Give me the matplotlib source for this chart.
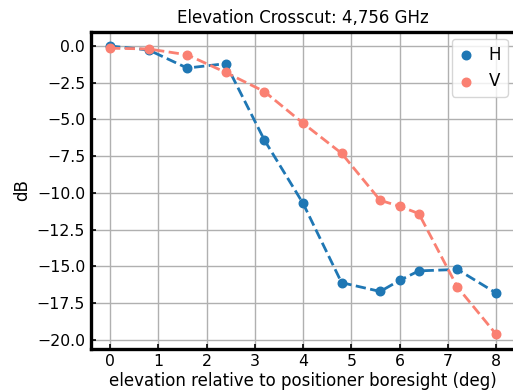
import matplotlib
matplotlib.use("Agg")
import matplotlib.pyplot as plt
from matplotlib.ticker import MultipleLocator

# elevation positions (deg)
elevation = [0, 0.8, 1.6, 2.4, 3.2, 4.0, 4.8, 5.6, 6.0, 6.4, 7.2, 8.0]
# measured crosscut levels (dB)
h_db = [0.0, -0.27, -1.5, -1.2, -6.4, -10.7, -16.1, -16.7, -15.95, -15.3, -15.2, -16.8]
v_db = [-0.15, -0.2, -0.6, -1.8, -3.1, -5.25, -7.3, -10.5, -10.9, -11.4, -16.4, -19.6]

H_COLOR = "#1f77b4"
V_COLOR = "salmon"

fig = plt.figure(figsize=(5.13, 3.9), dpi=100)
ax = fig.add_axes([90.7 / 513, 41.5 / 390, (515.3 - 90.7) / 513, (348.5 - 31.6) / 390])

ax.scatter(elevation, h_db, color=H_COLOR, s=38, label="H", zorder=3)
ax.plot(elevation, h_db, "--", color=H_COLOR, lw=2, zorder=3)
ax.scatter(elevation, v_db, color=V_COLOR, s=38, label="V", zorder=3)
ax.plot(elevation, v_db, "--", color=V_COLOR, lw=2, zorder=3)

ax.set_xlim(-0.4, 8.4)
ax.set_ylim(-20.58, 0.98)
ax.xaxis.set_major_locator(MultipleLocator(1))
ax.yaxis.set_major_locator(MultipleLocator(2.5))
ax.grid(True, color="#b0b0b0", lw=1)
ax.set_axisbelow(True)

for side in ["left", "top", "bottom"]:
    ax.spines[side].set_linewidth(2.4)
ax.spines["right"].set_visible(False)
ax.tick_params(direction="in", length=3.5, width=1.2, labelsize=11.3, pad=4)

ax.set_title("Elevation Crosscut: 4,756 GHz", fontsize=12)
ax.set_xlabel("elevation relative to positioner boresight (deg)", fontsize=12, labelpad=2)
ax.set_ylabel("dB", fontsize=12, labelpad=4)
ax.legend(loc="upper right", fontsize=12, handlelength=0.9, handletextpad=0.9,
          borderaxespad=0.45)

fig.savefig("out.png", dpi=100)
